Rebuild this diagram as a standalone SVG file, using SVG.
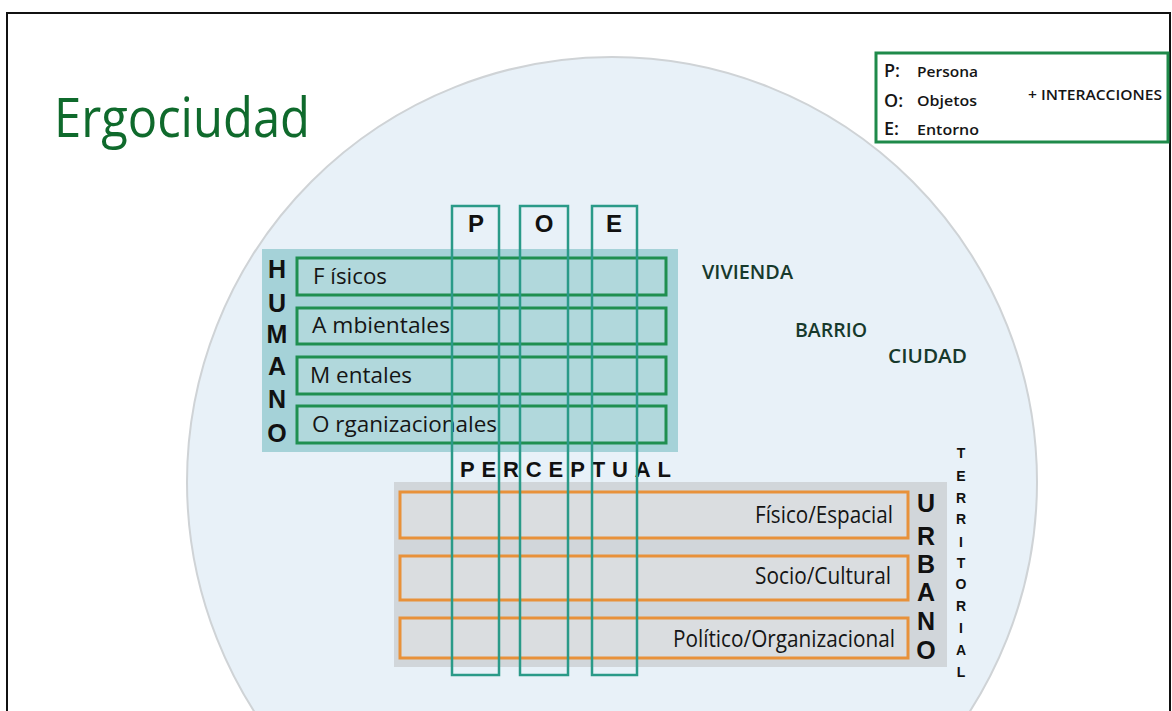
<svg xmlns="http://www.w3.org/2000/svg" width="1172" height="711" viewBox="0 0 1172 711">
<style>
.myr{font-family:"Open Sans","Noto Sans","Liberation Sans",sans-serif;}
.bold{font-family:"Liberation Sans",Arial,sans-serif;font-weight:bold;fill:#111;}
.hrow{fill:#b1d8dc;stroke:#1f8f50;stroke-width:3;}
.urow{fill:#dadde0;stroke:#e8913a;stroke-width:3;}
.col{fill:none;stroke:#2a9a88;stroke-width:2.5;}
.rowtxt{font-size:21px;fill:#151515;}
.utxt{font-size:23px;fill:#151515;}
.scale{font-size:19px;font-weight:600;fill:#17392c;}
.leg{font-size:14px;fill:#151515;font-weight:600;}
.legk{font-size:18px;fill:#151515;font-weight:600;}
.hum{font-size:25px;text-anchor:middle;}
.urb{font-size:25px;text-anchor:middle;}
.ter{font-size:14px;text-anchor:middle;}
.poe{font-size:24px;text-anchor:middle;}
</style>
<rect x="0" y="0" width="1172" height="711" fill="#ffffff"/>
<path d="M7,711 V13 H1170 V711" fill="none" stroke="#111" stroke-width="2"/>
<g id="scope-circle">
<circle cx="612" cy="482" r="425" fill="#e8f1f8" stroke="#cfd3d6" stroke-width="2"/>
</g>
<g id="title">
<text class="myr" x="54" y="137" font-size="54" fill="#0f6a2c" textLength="256" lengthAdjust="spacingAndGlyphs">Ergociudad</text>
</g>
<g id="legend">
<rect x="876" y="53" width="292" height="89" fill="#ffffff" stroke="#1f8a4a" stroke-width="3"/>
<text class="myr legk" x="884" y="77">P:</text>
<text class="myr leg" x="917" y="77" textLength="61" lengthAdjust="spacingAndGlyphs">Persona</text>
<text class="myr legk" x="884" y="107">O:</text>
<text class="myr leg" x="917" y="106" textLength="60" lengthAdjust="spacingAndGlyphs">Objetos</text>
<text class="myr legk" x="884" y="135">E:</text>
<text class="myr leg" x="917" y="135" textLength="62" lengthAdjust="spacingAndGlyphs">Entorno</text>
<text class="myr leg" x="1028" y="100" textLength="134" lengthAdjust="spacingAndGlyphs">+ INTERACCIONES</text>
</g>
<g id="scales">
<text class="myr scale" x="702" y="279" textLength="91" lengthAdjust="spacingAndGlyphs">VIVIENDA</text>
<text class="myr scale" x="795" y="337" textLength="72" lengthAdjust="spacingAndGlyphs">BARRIO</text>
<text class="myr scale" x="888" y="363" textLength="79" lengthAdjust="spacingAndGlyphs">CIUDAD</text>
</g>
<g id="humano">
<rect x="262" y="249" width="416" height="203" fill="#a5d2d8"/>
<rect class="hrow" x="297" y="258" width="369" height="37"/>
<rect class="hrow" x="297" y="308" width="369" height="36"/>
<rect class="hrow" x="297" y="357" width="369" height="37"/>
<rect class="hrow" x="297" y="406" width="369" height="37"/>
<text class="myr rowtxt" x="313" y="284" textLength="74" lengthAdjust="spacingAndGlyphs">F ísicos</text>
<text class="myr rowtxt" x="312" y="333" textLength="138" lengthAdjust="spacingAndGlyphs">A mbientales</text>
<text class="myr rowtxt" x="310" y="383" textLength="102" lengthAdjust="spacingAndGlyphs">M entales</text>
<text class="myr rowtxt" x="312" y="432" textLength="185" lengthAdjust="spacingAndGlyphs">O rganizacionales</text>
<text class="bold hum" x="277" y="278">H</text>
<text class="bold hum" x="277" y="312">U</text>
<text class="bold hum" x="277" y="343">M</text>
<text class="bold hum" x="277" y="375">A</text>
<text class="bold hum" x="277" y="408">N</text>
<text class="bold hum" x="277" y="442">O</text>
</g>
<g id="urbano">
<rect x="394" y="482" width="553" height="185" fill="#d1d6da"/>
<rect class="urow" x="400" y="492" width="508" height="46"/>
<rect class="urow" x="400" y="556" width="508" height="44"/>
<rect class="urow" x="400" y="618" width="508" height="40"/>
<text class="myr utxt" x="755" y="523" textLength="138" lengthAdjust="spacingAndGlyphs">Físico/Espacial</text>
<text class="myr utxt" x="755" y="584" textLength="136" lengthAdjust="spacingAndGlyphs">Socio/Cultural</text>
<text class="myr utxt" x="673" y="647" textLength="222" lengthAdjust="spacingAndGlyphs">Político/Organizacional</text>
<text class="bold urb" x="926" y="512">U</text>
<text class="bold urb" x="926" y="545">R</text>
<text class="bold urb" x="926" y="573">B</text>
<text class="bold urb" x="926" y="601">A</text>
<text class="bold urb" x="926" y="630">N</text>
<text class="bold urb" x="926" y="659">O</text>
</g>
<g id="territorial">
<text class="bold ter" x="961" y="458">T</text>
<text class="bold ter" x="961" y="481">E</text>
<text class="bold ter" x="961" y="503">R</text>
<text class="bold ter" x="961" y="524">R</text>
<text class="bold ter" x="961" y="547">I</text>
<text class="bold ter" x="961" y="568">T</text>
<text class="bold ter" x="961" y="589">O</text>
<text class="bold ter" x="961" y="611">R</text>
<text class="bold ter" x="961" y="633">I</text>
<text class="bold ter" x="961" y="655">A</text>
<text class="bold ter" x="961" y="677">L</text>
</g>
<g id="perceptual">
<text class="bold" x="460" y="477" font-size="22" textLength="211" lengthAdjust="spacing">PERCEPTUAL</text>
</g>
<g id="poe-columns">
<rect class="col" x="452" y="206" width="47" height="469"/>
<rect class="col" x="520" y="206" width="48" height="469"/>
<rect class="col" x="592" y="206" width="45" height="469"/>
<text class="bold poe" x="476" y="232">P</text>
<text class="bold poe" x="544" y="232">O</text>
<text class="bold poe" x="614" y="232">E</text>
</g>
<g id="connectors"></g>
</svg>
